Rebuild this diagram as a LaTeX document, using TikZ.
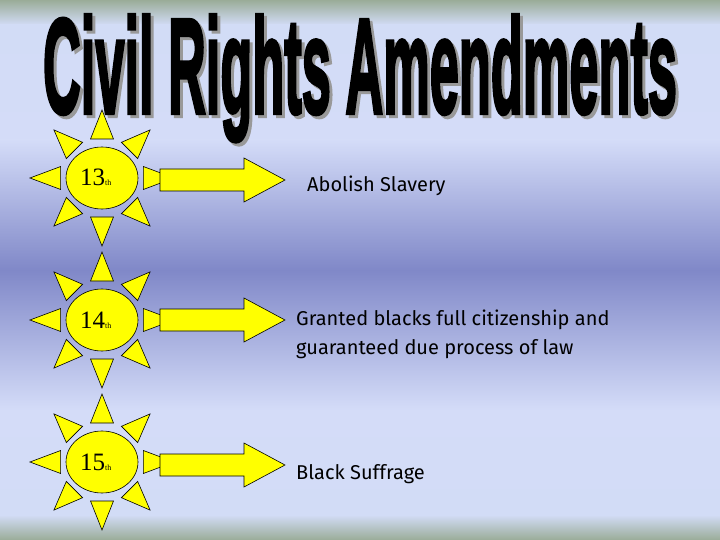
\documentclass[tikz,border=0pt]{standalone}
\usepackage{fontspec}
\setmainfont{Liberation Sans}
\newfontfamily\numfont{Liberation Serif}
\newfontfamily\txtfont{Fira Sans}
\newfontfamily\ttlfont[FakeBold=3]{Liberation Sans Bold}
\usetikzlibrary{shapes.geometric,calc}
\definecolor{gg}{HTML}{9AAC98}
\definecolor{lb}{HTML}{D2DCF6}
\definecolor{lbb}{HTML}{D4DCF8}
\definecolor{mid}{HTML}{8088C8}
\definecolor{sun}{HTML}{FFFF00}
\tikzset{
  ray/.style={fill=sun,draw=black,line width=0.6pt,line join=miter},
  disc/.style={ellipse,fill=sun,draw=black,line width=0.6pt,minimum width=72pt,minimum height=62pt,inner sep=0pt},
  blockarrow/.style={fill=sun,draw=black,line width=0.6pt},
  lbl/.style={font=\txtfont\fontsize{20}{29}\selectfont,anchor=west,align=left,inner sep=0pt},
  ttl/.style={anchor=base,inner sep=0pt}
}
\newcommand\mysun[3]{%
  \node[disc] (#1) at (#2) {};
  \foreach \a/\r in {0/1.06,45/1,90/1,135/1,180/1.06,225/1,270/1,315/1}{
    \draw[ray] ($(#1.center)+(\a:39*\r pt)+(\a+90:11.5pt)$) -- ($(#1.center)+(\a:68*\r pt)$) -- ($(#1.center)+(\a:39*\r pt)+(\a-90:11.5pt)$) -- cycle;
  }
  \node[anchor=base west,inner sep=0pt] (#1t) at ($(#1.center)+(-22pt,-8pt)$) {\numfont\fontsize{25}{25}\selectfont #3\raisebox{0pt}{\fontsize{8}{8}\selectfont th}};
}
\newcommand\ttltext{\resizebox{634pt}{98pt}{\ttlfont Civil Rights Amendments}}
\begin{document}
\begin{tikzpicture}[x=1pt,y=-1pt]
\useasboundingbox (0,0) rectangle (720,540);
\shade[top color=gg,bottom color=lb] (0,0) rectangle (720,25);
\shade[top color=lb,bottom color=lbb] (0,25) rectangle (720,140);
\shade[top color=lbb,bottom color=mid] (0,140) rectangle (720,270);
\shade[top color=mid,bottom color=lbb] (0,270) rectangle (720,410);
\shade[top color=lbb,bottom color=lb] (0,410) rectangle (720,515);
\shade[top color=lb,bottom color=gg] (0,515) rectangle (720,540);
\node[ttl,text=black!40] (tsh) at (363,116) {\ttltext};
\node[ttl] (title) at (360,113) {\ttltext};
\mysun{s1}{102,178}{13}
\mysun{s2}{102,320}{14}
\mysun{s3}{102,462}{15}
\foreach \y/\n in {180/a1,320/a2,465/a3}{
  \draw[blockarrow] (160,\y-11) -- (244,\y-11) -- (244,\y-22) -- (285,\y) -- (244,\y+22) -- (244,\y+11) -- (160,\y+11) -- cycle;
}
\node[lbl] (t1) at (307,186) {Abolish Slavery};
\node[lbl] (t2) at (296,334) {Granted blacks full citizenship and\\guaranteed due process of law};
\node[lbl] (t3) at (296,474) {Black Suffrage};
\end{tikzpicture}
\end{document}
